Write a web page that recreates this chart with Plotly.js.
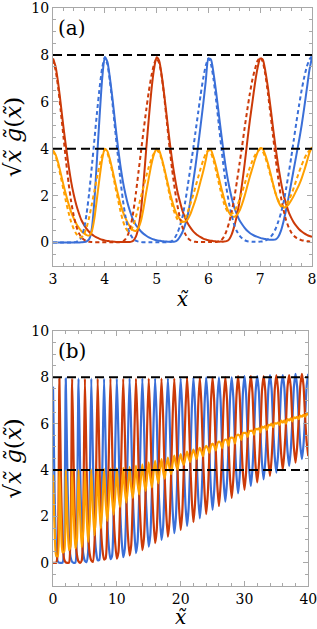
<!DOCTYPE html>
<html>
<head>
<meta charset="utf-8">
<script src="https://cdn.plot.ly/plotly-3.0.1.min.js"></script>
<style>html,body{margin:0;padding:0;background:#fff;}#plot{width:317px;height:629px;}</style>
</head>
<body>
<div id="plot"></div>
<script>
// ---------- Panel (a): x from 3 to 8 ----------
const xA = [3,3.05,3.1,3.15,3.2,3.25,3.3,3.35,3.4,3.45,3.5,
3.55,3.6,3.65,3.7,3.75,3.8,3.85,3.9,3.95,4,
4.05,4.1,4.15,4.2,4.25,4.3,4.35,4.4,4.45,4.5,
4.55,4.6,4.65,4.7,4.75,4.8,4.85,4.9,4.95,5,
5.05,5.1,5.15,5.2,5.25,5.3,5.35,5.4,5.45,5.5,
5.55,5.6,5.65,5.7,5.75,5.8,5.85,5.9,5.95,6,
6.05,6.1,6.15,6.2,6.25,6.3,6.35,6.4,6.45,6.5,
6.55,6.6,6.65,6.7,6.75,6.8,6.85,6.9,6.95,7,
7.05,7.1,7.15,7.2,7.25,7.3,7.35,7.4,7.45,7.5,
7.55,7.6,7.65,7.7,7.75,7.8,7.85,7.9,7.95,8];

const blueA = [0,0,0,0,0,0,0,0,0,0,0,
0.01,0.02,0.05,0.15,0.6,1.8,3.6,5.4,7.0,7.9,
7.7,7.0,6.1,5.1,4.15,3.3,2.6,2.05,1.6,1.25,
0.95,0.75,0.6,0.47,0.37,0.29,0.22,0.17,0.13,0.1,
0.08,0.06,0.05,0.04,0.03,0.03,0.04,0.1,0.25,0.45,
0.75,1.15,1.75,2.5,3.25,4.1,5.0,5.9,6.9,7.85,
7.8,7.2,6.4,5.5,4.6,3.75,3.0,2.4,1.9,1.5,
1.2,0.95,0.78,0.63,0.5,0.41,0.34,0.28,0.24,0.2,
0.17,0.15,0.13,0.12,0.12,0.14,0.25,0.5,0.9,1.4,
1.95,2.55,3.15,3.75,4.35,5.0,5.75,6.55,7.35,7.9];

const redA = [7.85,7.5,6.8,5.9,4.95,4.1,3.3,2.6,2.05,1.6,1.25,
0.95,0.75,0.58,0.45,0.35,0.27,0.21,0.16,0.12,0.09,
0.07,0.05,0.04,0.03,0.02,0.02,0.02,0.02,0.02,0.03,
0.08,0.25,0.65,1.4,2.6,4.0,5.3,6.5,7.4,7.9,
7.75,7.1,6.25,5.3,4.35,3.5,2.8,2.2,1.75,1.35,
1.05,0.82,0.65,0.5,0.39,0.3,0.23,0.17,0.13,0.1,
0.08,0.06,0.05,0.04,0.04,0.04,0.06,0.14,0.35,0.7,
1.15,1.75,2.5,3.35,4.3,5.2,6.0,6.8,7.45,7.85,
7.8,7.3,6.6,5.75,4.85,4.0,3.25,2.6,2.05,1.65,
1.3,1.05,0.85,0.7,0.57,0.47,0.39,0.33,0.28,0.24];

const orangeA = [3.93,3.75,3.4,2.95,2.48,2.05,1.65,1.3,1.03,0.8,0.63,
0.48,0.39,0.32,0.3,0.48,1.04,1.9,2.78,3.56,4.0,
3.89,3.53,3.07,2.57,2.09,1.66,1.31,1.04,0.81,0.64,
0.52,0.5,0.63,0.94,1.49,2.15,2.76,3.34,3.77,4.0,
3.92,3.58,3.15,2.67,2.19,1.77,1.42,1.15,1.0,0.9,
0.9,0.99,1.2,1.5,1.82,2.2,2.62,3.04,3.52,3.98,
3.94,3.63,3.23,2.77,2.32,1.9,1.53,1.27,1.13,1.1,
1.18,1.35,1.64,1.99,2.4,2.81,3.17,3.54,3.85,4.02,
3.99,3.73,3.37,2.94,2.49,2.07,1.75,1.55,1.48,1.53,
1.63,1.8,2.0,2.23,2.46,2.74,3.07,3.44,3.82,4.07];

const blueAdash = [0,0,0,0,0,0,0,0,0.01,0.03,0.08,
0.22,0.6,1.25,2.15,3.25,4.4,5.55,6.6,7.45,7.9,
7.6,6.85,5.9,4.8,3.75,2.7,1.8,1.1,0.6,0.32,
0.16,0.08,0.04,0.02,0.01,0.01,0.01,0.01,0.01,0.01,
0.01,0.01,0.01,0.01,0.03,0.08,0.2,0.4,0.7,1.1,
1.7,2.4,3.15,3.9,4.7,5.5,6.3,7.0,7.55,7.85,
7.6,6.95,6.05,5.05,4.05,3.1,2.3,1.65,1.15,0.75,
0.48,0.3,0.18,0.1,0.06,0.04,0.03,0.03,0.03,0.04,
0.05,0.08,0.14,0.24,0.38,0.6,0.9,1.25,1.7,2.3,
2.95,3.65,4.4,5.15,5.85,6.5,7.05,7.5,7.8,7.95];

const redAdash = [7.8,7.35,6.6,5.6,4.55,3.5,2.55,1.75,1.15,0.7,0.4,
0.22,0.12,0.06,0.03,0.02,0.01,0.01,0.01,0.01,0.01,
0.01,0.01,0.01,0.01,0.01,0.02,0.05,0.15,0.35,0.7,
1.3,2.1,3.0,3.9,4.8,5.65,6.45,7.1,7.6,7.85,
7.65,7.05,6.15,5.1,4.05,3.1,2.3,1.6,1.05,0.65,
0.38,0.2,0.1,0.05,0.03,0.02,0.02,0.02,0.02,0.02,
0.02,0.02,0.02,0.05,0.1,0.25,0.5,0.85,1.3,1.9,
2.6,3.35,4.1,4.9,5.65,6.35,6.95,7.4,7.75,7.9,
7.7,7.15,6.35,5.45,4.5,3.55,2.7,1.95,1.4,0.95,
0.65,0.43,0.29,0.2,0.14,0.1,0.08,0.06,0.05,0.04];

const orangeAdash = [3.9,3.68,3.3,2.8,2.28,1.75,1.28,0.88,0.58,0.37,0.24,
0.22,0.36,0.66,1.09,1.64,2.21,2.78,3.31,3.73,3.96,
3.81,3.43,2.96,2.41,1.88,1.36,0.93,0.63,0.48,0.51,
0.73,1.09,1.52,1.96,2.41,2.83,3.23,3.56,3.81,3.93,
3.83,3.53,3.08,2.56,2.04,1.59,1.25,1.0,0.88,0.88,
1.04,1.3,1.63,1.98,2.37,2.76,3.16,3.51,3.79,3.94,
3.81,3.49,3.04,2.55,2.08,1.68,1.4,1.25,1.23,1.33,
1.54,1.83,2.14,2.5,2.86,3.2,3.49,3.72,3.89,3.97,
3.88,3.62,3.25,2.85,2.44,2.08,1.8,1.6,1.55,1.63,
1.8,2.04,2.35,2.68,3.0,3.3,3.57,3.78,3.93,4.0];

// ---------- Panel (b): x from 0 to 40 ----------
const xB = [0,0.25,0.5,0.75,1,1.25,1.5,1.75,2,2.25,2.5,2.75,3,3.25,3.5,3.75,
4,4.25,4.5,4.75,5,5.25,5.5,5.75,6,6.25,6.5,6.75,7,7.25,7.5,7.75,
8,8.25,8.5,8.75,9,9.25,9.5,9.75,10,10.25,10.5,10.75,11,11.25,11.5,11.75,
12,12.25,12.5,12.75,13,13.25,13.5,13.75,14,14.25,14.5,14.75,15,15.25,15.5,15.75,
16,16.25,16.5,16.75,17,17.25,17.5,17.75,18,18.25,18.5,18.75,19,19.25,19.5,19.75,
20,20.25,20.5,20.75,21,21.25,21.5,21.75,22,22.25,22.5,22.75,23,23.25,23.5,23.75,
24,24.25,24.5,24.75,25,25.25,25.5,25.75,26,26.25,26.5,26.75,27,27.25,27.5,27.75,
28,28.25,28.5,28.75,29,29.25,29.5,29.75,30,30.25,30.5,30.75,31,31.25,31.5,31.75,
32,32.25,32.5,32.75,33,33.25,33.5,33.75,34,34.25,34.5,34.75,35,35.25,35.5,35.75,
36,36.25,36.5,36.75,37,37.25,37.5,37.75,38,38.25,38.5,38.75,39,39.25,39.5,39.75,40];

const blueB = [7.6,3.0,0.6,0.05,0,0,0,0.8,
7.95,3.9,1.1,0.25,0.04,0,0,1.6,
7.95,4.15,1.25,0.37,0.08,0.03,0.45,3.2,
7.95,4.6,1.5,0.5,0.12,0.12,1.3,4.4,
7.95,5.1,1.9,0.7,0.16,0.3,2.0,5.0,
7.95,5.5,2.5,1.0,0.24,0.6,2.5,5.4,
7.95,5.8,2.9,1.35,0.42,0.9,2.85,5.7,
7.95,6.05,3.2,1.65,0.7,1.2,3.15,6.0,
7.95,6.25,3.5,1.95,0.99,1.55,3.55,6.25,
7.95,6.45,3.9,2.25,1.28,1.95,3.95,6.45,
7.95,6.65,4.3,2.55,1.59,2.35,4.3,6.65,
8.0,6.8,4.55,2.85,1.92,2.75,4.55,6.85,
8.0,6.93,4.8,3.15,2.28,3.1,4.8,7.0,
8.0,7.05,5.0,3.45,2.64,3.45,5.0,7.15,
8.0,7.15,5.2,3.75,3.0,3.75,5.25,7.3,
8.05,7.3,5.45,4.0,3.32,4.05,5.5,7.4,
8.05,7.4,5.65,4.3,3.6,4.35,5.7,7.5,
8.1,7.5,5.85,4.55,3.89,4.6,5.95,7.55,
8.1,7.55,6.0,4.8,4.18,4.85,6.1,7.6,
8.15,7.6,6.2,5.05,4.47,5.1,6.3,7.65,
8.15];

const redB = [0,0,0,0.5,
7.95,3.6,0.9,0.15,0.02,0,0,1.2,
7.95,4.1,1.25,0.35,0.06,0,0.1,2.4,
7.95,4.35,1.35,0.39,0.1,0.04,0.85,3.9,
7.95,4.85,1.65,0.57,0.14,0.2,1.7,4.7,
7.95,5.3,2.15,0.85,0.18,0.45,2.3,5.2,
7.95,5.65,2.7,1.15,0.32,0.75,2.7,5.55,
7.95,5.95,3.05,1.5,0.55,1.05,3.0,5.85,
7.95,6.15,3.35,1.8,0.85,1.4,3.35,6.15,
7.95,6.35,3.7,2.1,1.13,1.75,3.75,6.35,
7.95,6.55,4.1,2.4,1.42,2.15,4.15,6.55,
8.0,6.72,4.4,2.7,1.75,2.55,4.4,6.75,
8.0,6.87,4.65,3.0,2.1,2.95,4.7,6.95,
8.0,7.0,4.9,3.3,2.45,3.3,4.9,7.05,
8.0,7.1,5.1,3.6,2.8,3.6,5.1,7.2,
8.05,7.2,5.35,3.9,3.15,3.9,5.4,7.35,
8.05,7.35,5.55,4.15,3.47,4.2,5.6,7.45,
8.05,7.45,5.75,4.4,3.75,4.5,5.85,7.5,
8.1,7.5,5.95,4.7,4.0,4.75,6.0,7.6,
8.1,7.6,6.1,4.95,4.32,5.0,6.2,7.65,
8.15,7.65,6.3,5.2,4.6];

const orangeB = [3.8,1.5,0.3,0.28,
3.98,1.8,0.45,0.48,
3.99,1.95,0.55,0.73,
4.0,2.05,0.63,0.98,
4.0,2.08,0.68,1.39,
4.02,2.19,0.9,1.8,
4.03,2.32,1.18,2.2,
4.04,2.49,1.48,2.49,
4.05,2.65,1.8,2.7,
4.06,2.8,2.08,2.93,
4.07,2.98,2.4,3.1,
4.1,3.13,2.6,3.28,
4.14,3.28,2.8,3.45,
4.19,3.43,2.95,3.6,
4.25,3.55,3.1,3.75,
4.33,3.68,3.25,3.9,
4.4,3.83,3.43,4.05,
4.47,3.95,3.63,4.18,
4.54,4.1,3.83,4.3,
4.62,4.25,4.03,4.43,
4.69,4.4,4.23,4.55,
4.8,4.54,4.35,4.68,
4.88,4.68,4.48,4.8,
4.96,4.81,4.6,4.93,
5.05,4.94,4.75,5.05,
5.14,5.05,4.85,5.15,
5.23,5.18,4.95,5.25,
5.32,5.28,5.05,5.38,
5.4,5.38,5.15,5.48,
5.53,5.48,5.3,5.6,
5.6,5.6,5.43,5.68,
5.69,5.7,5.53,5.78,
5.76,5.8,5.63,5.88,
5.83,5.9,5.73,5.95,
5.93,6.0,5.85,6.03,
6.0,6.05,5.95,6.13,
6.05,6.15,6.0,6.2,
6.14,6.23,6.1,6.28,
6.24,6.3,6.2,6.35,
6.31,6.38,6.3,6.43,
6.38];

const refLevels = [8, 4];
const panelLabels = ['(a)', '(b)'];

// ---------- styling ----------
const BLUE = '#3a6fd8', RED = '#cc3a08', ORANGE = '#ffa000';
const SERIF = 'DejaVu Serif';

function line(x, y, color, dash, xa, ya, w) {
  return {x: x, y: y, type: 'scatter', mode: 'lines', xaxis: xa, yaxis: ya,
    line: {color: color, width: w, dash: dash, shape: 'spline', smoothing: 0.6},
    hoverinfo: 'skip', showlegend: false};
}

const traces = [
  line(xA, blueA, BLUE, 'solid', 'x', 'y', 2),
  line(xA, redA, RED, 'solid', 'x', 'y', 2),
  line(xA, orangeA, ORANGE, 'solid', 'x', 'y', 2),
  line(xA, blueAdash, BLUE, '4px,3px', 'x', 'y', 2),
  line(xA, redAdash, RED, '4px,3px', 'x', 'y', 2),
  line(xA, orangeAdash, ORANGE, '4px,3px', 'x', 'y', 2),
  line(xB, blueB, BLUE, 'solid', 'x2', 'y2', 2.2),
  line(xB, redB, RED, 'solid', 'x2', 'y2', 2.2),
  line(xB, orangeB, ORANGE, 'solid', 'x2', 'y2', 2.2)
];

const FRAME = '#a8a8a8';
function axis(extra) {
  return Object.assign({
    showline: true, linecolor: FRAME, linewidth: 1, mirror: 'allticks',
    ticks: 'inside', ticklen: 5, tickwidth: 1, tickcolor: FRAME,
    showgrid: false, zeroline: false, ticklabeloverflow: 'allow',
    tickfont: {family: SERIF, size: 14, color: '#000'}
  }, extra);
}
const ytitle = '\u221A<i>x\u0303</i> <i>g\u0303</i>(<i>x\u0303</i>)';
const xtitle = '<i>x\u0303</i>';

const layout = {
  width: 317, height: 629,
  margin: {l: 53, r: 5, t: 8, b: 43},
  paper_bgcolor: '#fff', plot_bgcolor: '#fff',
  font: {family: SERIF, color: '#000'},
  xaxis: axis({domain: [0, 1], range: [3, 8], anchor: 'y', tickvals: [3,4,5,6,7,8],
    minor: {dtick: 0.2, ticks: 'inside', ticklen: 3, tickcolor: FRAME, showgrid: false},
    title: {text: xtitle, font: {family: SERIF, size: 20, color: '#000'}, standoff: 6}}),
  yaxis: axis({domain: [0.5536, 1], range: [-1, 10], anchor: 'x', tickvals: [0,2,4,6,8,10],
    minor: {dtick: 0.5, ticks: 'inside', ticklen: 3, tickcolor: FRAME, showgrid: false},
    title: {text: ytitle, font: {family: SERIF, size: 23, color: '#000'}, standoff: 4}}),
  xaxis2: axis({domain: [0, 0.9857], range: [0, 40], anchor: 'y2', tickvals: [0,10,20,30,40],
    minor: {dtick: 2, ticks: 'inside', ticklen: 3, tickcolor: FRAME, showgrid: false},
    title: {text: xtitle, font: {family: SERIF, size: 20, color: '#000'}, standoff: 10}}),
  yaxis2: axis({domain: [0, 0.4412], range: [-1, 10], anchor: 'x2', tickvals: [0,2,4,6,8,10],
    minor: {dtick: 0.5, ticks: 'inside', ticklen: 3, tickcolor: FRAME, showgrid: false},
    title: {text: ytitle, font: {family: SERIF, size: 23, color: '#000'}, standoff: 4}}),
  shapes: [],
  annotations: []
};

[['x', 'y'], ['x2', 'y2']].forEach(function (ax, i) {
  refLevels.forEach(function (lv) {
    layout.shapes.push({type: 'line', xref: ax[0] + ' domain', yref: ax[1],
      x0: 0, x1: 1, y0: lv, y1: lv, layer: 'above',
      line: {color: '#000', width: 2, dash: '9px,5px'}});
  });
  layout.annotations.push({text: panelLabels[i], xref: ax[0] + ' domain', yref: ax[1] + ' domain',
    x: 0.012, y: 0.975, xanchor: 'left', yanchor: 'top', showarrow: false,
    font: {family: SERIF, size: 20, color: '#000'}});
});

Plotly.newPlot('plot', traces, layout, {displayModeBar: false, staticPlot: true});
</script>
</body>
</html>
